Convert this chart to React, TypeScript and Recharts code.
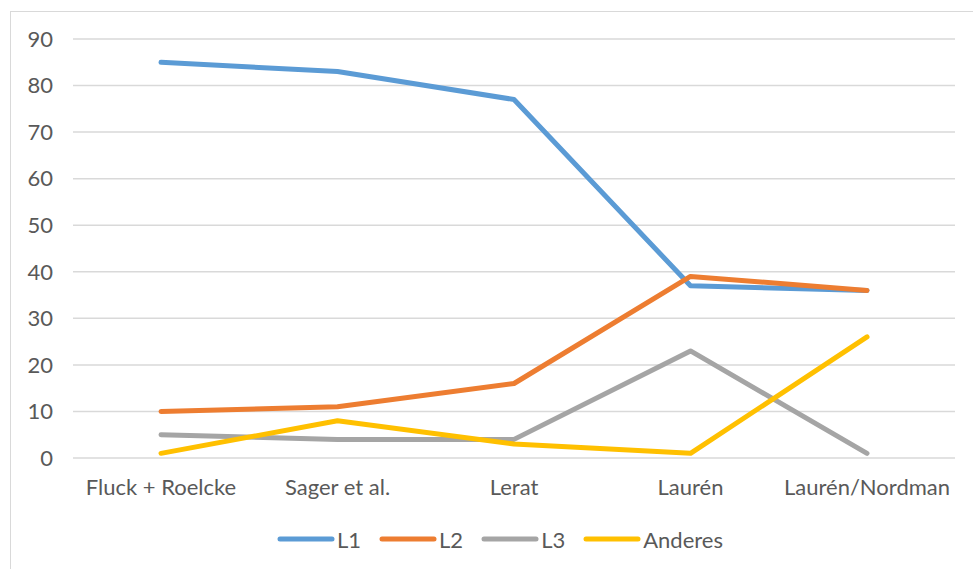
import React from 'react';
import { LineChart, Line, XAxis, YAxis, CartesianGrid, Legend } from 'recharts';

const categories = ['Fluck + Roelcke', 'Sager et al.', 'Lerat', 'Laurén', 'Laurén/Nordman'];
const l1 = [85, 83, 77, 37, 36];
const l2 = [10, 11, 16, 39, 36];
const l3 = [5, 4, 4, 23, 1];
const anderes = [1, 8, 3, 1, 26];
const yTicks = [0, 10, 20, 30, 40, 50, 60, 70, 80, 90];

const series = [
    { key: 'L1', color: '#5B9BD5' },
    { key: 'L2', color: '#ED7D31' },
    { key: 'L3', color: '#A5A5A5' },
    { key: 'Anderes', color: '#FFC000' },
];

const data = categories.map((name, i) => ({
    name,
    L1: l1[i],
    L2: l2[i],
    L3: l3[i],
    Anderes: anderes[i],
}));

const FONT = 'Lato, "Open Sans", sans-serif';
const TEXT = '#595959';

// legend keeps the series order instead of the library's sorted payload
const renderLegend = () => (
    <div style={{ display: 'flex', alignItems: 'center', height: 30, fontFamily: FONT, fontSize: 22, color: TEXT }}>
        {series.map(s => (
            <div key={s.key} style={{ display: 'flex', alignItems: 'center', marginRight: 18 }}>
                <svg width={58} height={10} style={{ marginRight: 2 }}>
                    <line x1={3} y1={5} x2={55} y2={5} stroke={s.color} strokeWidth={5} strokeLinecap="round" />
                </svg>
                <span>{s.key}</span>
            </div>
        ))}
    </div>
);

export default function App() {
    return (
        <div style={{ position: 'absolute', left: 0, top: 0, width: 973, height: 569, background: '#fff', overflow: 'hidden' }}>
            <div style={{ position: 'absolute', left: 10, top: 11, width: 1000, height: 600, border: '1.5px solid #d9d9d9' }} />
            <LineChart
                width={973}
                height={569}
                data={data}
                margin={{ top: 39, right: 18, left: 33, bottom: 51 }}
                style={{ position: 'absolute', left: 0, top: 0 }}
            >
                <CartesianGrid vertical={false} stroke="#d9d9d9" strokeWidth={1.5} />
                <XAxis
                    dataKey="name"
                    height={30}
                    padding={{ left: 88, right: 88 }}
                    axisLine={false}
                    tickLine={false}
                    tickSize={0}
                    tickMargin={21}
                    interval={0}
                    tick={{ fill: TEXT, fontSize: 22, fontFamily: FONT }}
                />
                <YAxis
                    width={40}
                    domain={[0, 90]}
                    ticks={yTicks}
                    axisLine={false}
                    tickLine={false}
                    tickSize={0}
                    tickMargin={20}
                    tick={{ fill: TEXT, fontSize: 22, fontFamily: FONT }}
                />
                <Legend
                    content={renderLegend}
                    wrapperStyle={{ left: 277, top: 524, bottom: 'auto', width: 'auto' }}
                />
                {series.map(s => (
                    <Line
                        key={s.key}
                        type="linear"
                        dataKey={s.key}
                        stroke={s.color}
                        strokeWidth={5}
                        strokeLinecap="round"
                        strokeLinejoin="round"
                        dot={false}
                        activeDot={false}
                        isAnimationActive={false}
                    />
                ))}
            </LineChart>
        </div>
    );
}
